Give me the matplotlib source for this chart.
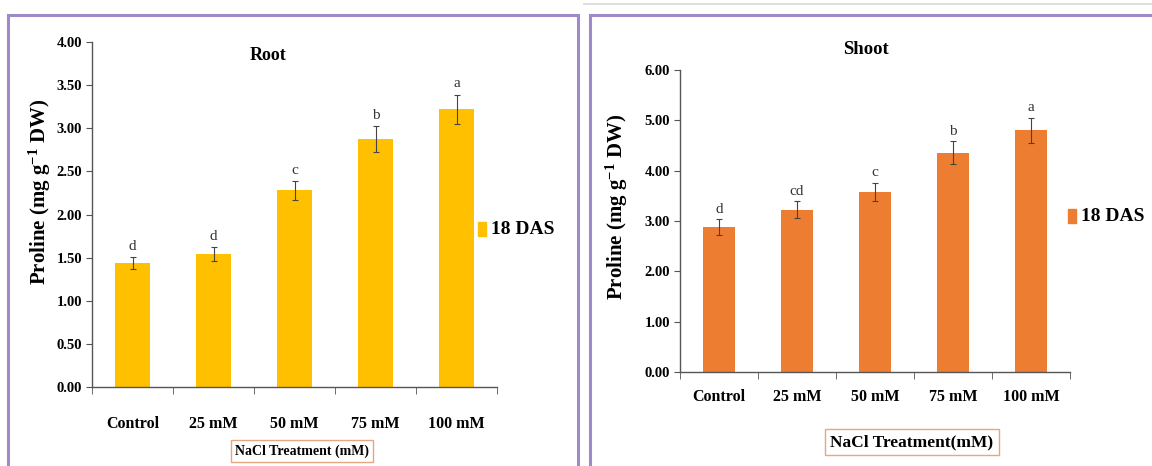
import numpy as np
import matplotlib.pyplot as plt
from matplotlib.patches import Rectangle

plt.rcParams['font.family'] = ['Liberation Serif', 'DejaVu Serif']
plt.rcParams['mathtext.fontset'] = 'custom'
plt.rcParams['mathtext.rm'] = 'Liberation Serif:bold'
plt.rcParams['mathtext.default'] = 'rm'

categories = ['Control', '25 mM', '50 mM', '75 mM', '100 mM']
root_vals = [1.44, 1.54, 2.28, 2.88, 3.22]
root_err = [0.07, 0.08, 0.11, 0.15, 0.17]
root_letters = ['d', 'd', 'c', 'b', 'a']
shoot_vals = [2.88, 3.22, 3.58, 4.36, 4.80]
shoot_err = [0.15, 0.17, 0.18, 0.22, 0.25]
shoot_letters = ['d', 'cd', 'c', 'b', 'a']
root_ticks = [0, 0.5, 1.0, 1.5, 2.0, 2.5, 3.0, 3.5, 4.0]
shoot_ticks = [0, 1, 2, 3, 4, 5, 6]

W, H = 1152, 466
fig = plt.figure(figsize=(W / 100, H / 100), dpi=100)


def fx(px):
    return px / W


def fy(py):
    return 1 - py / H


# panel frames
fig.patches.append(Rectangle((fx(8), fy(480)), fx(570), fy(15) - fy(480), transform=fig.transFigure,
                             fill=False, edgecolor='#9d8ac6', linewidth=2.2))
fig.patches.append(Rectangle((fx(590), fy(480)), fx(600), fy(15) - fy(480), transform=fig.transFigure,
                             fill=False, edgecolor='#9d8ac6', linewidth=2.2))
fig.lines.append(plt.Line2D([fx(584), fx(1152)], [fy(4), fy(4)], transform=fig.transFigure,
                            color='#d8d8d8', linewidth=1.2))


def panel(rect, vals, err, letters, ticks, color, title, title_xy, title_size, ylab_xy, leg_x, leg_y,
          xlab, xlab_xy, xlab_size, xpad):
    ax = fig.add_axes(rect)
    x = np.arange(len(categories))
    ax.bar(x, vals, width=0.42, color=color, zorder=2)
    ax.errorbar(x, vals, yerr=err, fmt='none', ecolor='#444444', elinewidth=0.8, capsize=2.5, capthick=0.8, zorder=3)
    for xi, v, e, l in zip(x, vals, err, letters):
        ax.text(xi, v + e + ticks[-1] * 0.012, l, ha='center', va='bottom', fontsize=11, color='#333333')
    ax.set_xlim(-0.5, len(categories) - 0.5)
    ax.set_ylim(0, ticks[-1])
    ax.set_yticks(ticks)
    ax.set_yticklabels(['%.2f' % t for t in ticks], fontsize=10.5, fontweight='bold')
    ax.set_xticks(x)
    ax.set_xticklabels(categories, fontsize=11.5, fontweight='bold')
    ax.set_xticks(np.arange(len(categories) + 1) - 0.5, minor=True)
    ax.tick_params(axis='x', which='major', length=0, pad=xpad)
    ax.tick_params(axis='x', which='minor', length=5, direction='out', color='#555555')
    ax.tick_params(axis='y', length=4, direction='out', color='#555555', pad=3)
    for s in ['top', 'right']:
        ax.spines[s].set_visible(False)
    for s in ['left', 'bottom']:
        ax.spines[s].set_color('#555555')
        ax.spines[s].set_linewidth(1.0)
    ax.patch.set_alpha(0)
    fig.text(fx(title_xy[0]), fy(title_xy[1]), title, ha='center', va='center', fontsize=title_size,
             fontweight='bold')
    fig.text(fx(ylab_xy[0]), fy(ylab_xy[1]), 'Proline (mg g$^{-1}$ DW)', rotation=90, ha='center', va='center',
             fontsize=15, fontweight='bold')
    # legend
    fig.patches.append(Rectangle((fx(leg_x), fy(leg_y + 7)), fx(8), fy(leg_y - 7) - fy(leg_y + 7),
                                 transform=fig.transFigure, color=color))
    fig.text(fx(leg_x + 13), fy(leg_y), '18 DAS', ha='left', va='center', fontsize=14, fontweight='bold')
    fig.text(fx(xlab_xy[0]), fy(xlab_xy[1]), xlab, ha='center', va='center', fontsize=xlab_size, fontweight='bold',
             bbox=dict(boxstyle='square,pad=0.3', facecolor='white', edgecolor='#e3a882', linewidth=1.0))
    return ax


panel([fx(92), fy(387), fx(405), fy(42) - fy(387)], root_vals, root_err, root_letters, root_ticks,
      '#ffc000', 'Root', (268, 55), 13, (40, 192), 478, 229, 'NaCl Treatment (mM)', (302, 451), 10, 21)
panel([fx(680), fy(372), fx(390), fy(70) - fy(372)], shoot_vals, shoot_err, shoot_letters, shoot_ticks,
      '#ed7d31', 'Shoot', (866, 50), 13.5, (617, 207), 1068, 216, 'NaCl Treatment(mM)', (912, 442), 12.5, 12)

fig.savefig('out.png', dpi=100)
